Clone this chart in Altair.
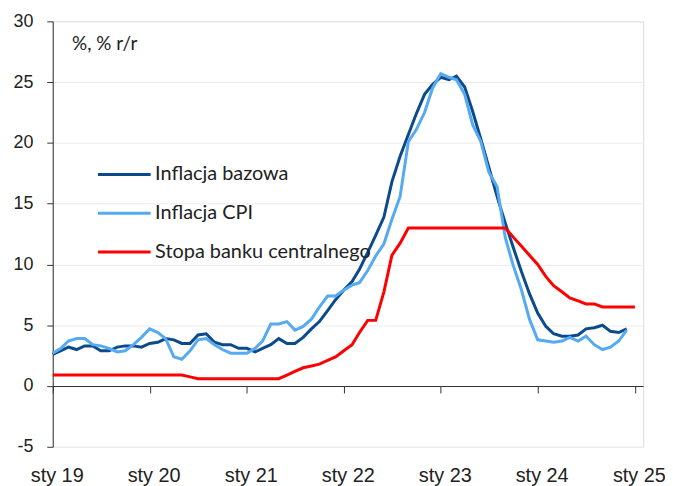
import altair as alt
import pandas as pd

# ---- data (monthly, y/y %) ----
core = [
    2.6, 2.9, 3.2, 3.0, 3.3, 3.3, 2.9, 2.9, 3.2, 3.3, 3.3, 3.2,      # 2019
    3.5, 3.6, 3.9, 3.8, 3.5, 3.5, 4.2, 4.3, 3.6, 3.4, 3.4, 3.1,      # 2020
    3.1, 2.8, 3.1, 3.4, 3.9, 3.5, 3.5, 4.0, 4.7, 5.3, 6.2, 7.1,      # 2021
    7.9, 8.6, 9.6, 11.0, 12.4, 13.9, 16.8, 18.9, 20.7, 22.4, 24.0, 24.8,  # 2022
    25.4, 25.2, 25.5, 24.6, 22.6, 20.3, 18.0, 15.6, 13.4, 11.4, 9.4, 7.6,  # 2023
    6.0, 4.9, 4.3, 4.1, 4.1, 4.2, 4.7, 4.8, 5.0, 4.5, 4.4, 4.7,      # 2024
]
cpi = [
    2.7, 3.1, 3.7, 3.9, 3.9, 3.4, 3.3, 3.1, 2.8, 2.9, 3.4, 4.0,      # 2019
    4.7, 4.4, 3.9, 2.4, 2.2, 2.9, 3.8, 3.9, 3.4, 3.0, 2.7, 2.7,      # 2020
    2.7, 3.1, 3.7, 5.1, 5.1, 5.3, 4.6, 4.9, 5.5, 6.5, 7.4, 7.4,      # 2021
    7.9, 8.3, 8.5, 9.5, 10.7, 11.7, 13.7, 15.6, 20.1, 21.1, 22.5, 24.5,  # 2022
    25.7, 25.4, 25.2, 24.0, 21.5, 20.1, 17.6, 16.4, 12.2, 9.9, 7.9, 5.5,  # 2023
    3.8, 3.7, 3.6, 3.7, 4.0, 3.7, 4.1, 3.4, 3.0, 3.2, 3.7, 4.6,      # 2024
]
rate = [
    0.9, 0.9, 0.9, 0.9, 0.9, 0.9, 0.9, 0.9, 0.9, 0.9, 0.9, 0.9,      # 2019
    0.9, 0.9, 0.9, 0.9, 0.9, 0.75, 0.6, 0.6, 0.6, 0.6, 0.6, 0.6,     # 2020
    0.6, 0.6, 0.6, 0.6, 0.6, 0.9, 1.2, 1.5, 1.65, 1.8, 2.1, 2.4,     # 2021
    2.9, 3.4, 4.4, 5.4, 5.4, 7.75, 10.75, 11.75, 13.0, 13.0, 13.0, 13.0,  # 2022
    13.0, 13.0, 13.0, 13.0, 13.0, 13.0, 13.0, 13.0, 13.0, 12.25, 11.5, 10.75,  # 2023
    10.0, 9.0, 8.25, 7.75, 7.25, 7.0, 6.75, 6.75, 6.5, 6.5, 6.5, 6.5,  # 2024
    6.5,                                                             # 2025
]
series_names = ["Inflacja bazowa", "Inflacja CPI", "Stopa banku centralnego"]
series_colors = ["#0b4a8b", "#55aaf2", "#ff0000"]
tick_years = [2019, 2020, 2021, 2022, 2023, 2024, 2025]
y_ticks = [-5, 0, 5, 10, 15, 20, 25, 30]
y_title = "%, % r/r"

frames = []
for name, vals in zip(series_names, [core, cpi, rate]):
    dts = pd.date_range("2019-01-01", periods=len(vals), freq="MS")
    frames.append(pd.DataFrame({"date": dts.strftime("%Y-%m-%d"),
                                "value": vals, "series": name}))
df = pd.concat(frames, ignore_index=True)

W, H = 594, 428
y_min, y_max = -5, 30
x_axis_offset = -(0 - y_min) * H / (y_max - y_min)

tick_font = "Liberation Sans, Arial, sans-serif"
text_font = "Lato, sans-serif"

x_enc = alt.X(
    "date:T",
    scale=alt.Scale(type="utc", domain=[
        alt.DateTime(year=2019, month=1, date=1, utc=True),
        alt.DateTime(year=2025, month=2, date=1, utc=True)]),
    axis=alt.Axis(
        values=[alt.DateTime(year=y, month=1, date=1, utc=True) for y in tick_years],
        labelExpr="'sty ' + utcFormat(datum.value, '%y')",
        offset=x_axis_offset, tickSize=7, labelPadding=73, labelOffset=4,
        grid=False, title=None, labelFontSize=20, labelFont=tick_font,
        labelColor="#222222", domainColor="#333333", tickColor="#333333",
        labelFlush=False, labelOverlap=False),
)
y_enc = alt.Y(
    "value:Q",
    scale=alt.Scale(domain=[y_min, y_max], nice=False, zero=False),
    axis=alt.Axis(
        values=y_ticks, labelExpr="'' + datum.value",
        tickSize=6, labelPadding=14, labelFontSize=18,
        labelFont=tick_font, labelColor="#222222", domainColor="#333333",
        tickColor="#333333", grid=True, gridColor="#ececec",
        title=y_title, titleAngle=0, titleAlign="left", titleBaseline="middle",
        titleX=19, titleY=22, titleFontSize=19, titleFontWeight="normal",
        titleFont=text_font, titleColor="#222222"),
)
color_enc = alt.Color(
    "series:N",
    scale=alt.Scale(domain=series_names, range=series_colors),
    legend=alt.Legend(
        title=None, orient="none", legendX=44, legendY=126,
        symbolType="stroke", symbolSize=2809, symbolStrokeWidth=3,
        labelFontSize=20, labelFont=text_font, labelColor="#222222",
        labelOffset=3, rowPadding=1, padding=0, labelLimit=400),
)

layers = []
for name in series_names:
    layers.append(
        alt.Chart(df)
        .transform_filter(alt.datum.series == name)
        .mark_line(strokeWidth=3)
        .encode(x=x_enc, y=y_enc, color=color_enc)
    )

chart = (
    alt.layer(*layers)
    .properties(width=W, height=H,
                autosize=alt.AutoSizeParams(type="none"),
                padding={"left": 45, "top": 12, "right": 22, "bottom": 38})
    .configure_view(stroke="transparent")
    .configure(background="white")
)

chart.save("out.html", embed_options={"renderer": "svg", "actions": False})
